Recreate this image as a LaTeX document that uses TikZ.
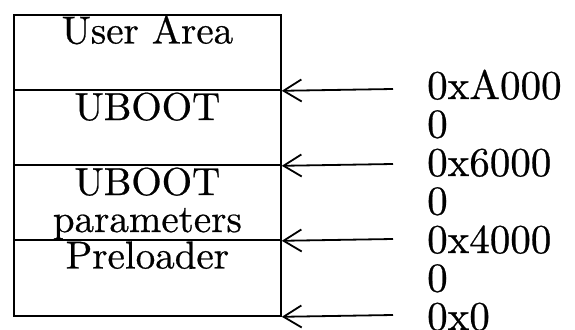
\documentclass[tikz,border=0pt]{standalone}
\usepackage{fontspec}
\setmainfont{lmroman10-regular.otf}[FakeBold=0.6]
\usetikzlibrary{arrows.meta}
\begin{document}
\begin{tikzpicture}[x=1pt,y=-1pt,
  cell/.style={draw,line width=1.8pt,minimum width=267pt,inner sep=0pt,anchor=north west},
  celltext/.style={anchor=base,inner sep=0pt,font=\fontsize{39}{38.5}\selectfont},
  addr/.style={anchor=base west,inner sep=0pt,font=\fontsize{41}{38.5}\selectfont},
  ptr/.style={line width=1.8pt,-{Straight Barb[length=18pt,width=22pt,line width=1.8pt]}}]
\useasboundingbox (0,0) rectangle (575,329);
\clip (0,0) rectangle (575,329);
% memory cells
\node[cell,minimum height=75pt] (c1) at (13,14) {};
\node[cell,minimum height=75pt] (c2) at (13,89) {};
\node[cell,minimum height=75pt] (c3) at (13,164) {};
\node[cell,minimum height=76pt] (c4) at (13,239) {};
% cell labels
\node[celltext] (t1) at ([yshift=-29.5pt]c1.north) {User Area};
\node[celltext] (t2) at ([yshift=-31pt]c2.north) {UBOOT};
\node[celltext] (t3) at ([yshift=-31pt]c3.north) {UBOOT};
\node[celltext] (t3b) at ([yshift=-68pt]c3.north) {parameters};
\node[celltext] (t4) at ([yshift=-29.5pt]c4.north) {Preloader};
% arrow sources
\coordinate (s1) at (393,89);
\coordinate (s2) at (393,164);
\coordinate (s3) at (393,239);
\coordinate (s4) at (393,315);
\draw[ptr] (s1) -- (c1.south east);
\draw[ptr] (s2) -- (c2.south east);
\draw[ptr] (s3) -- (c3.south east);
\draw[ptr] (s4) -- (c4.south east);
% address labels
\node[addr] (a1) at (427,99) {0xA000};
\node[addr] (a2) at (427,137.5) {0};
\node[addr] (a3) at (427,176) {0x6000};
\node[addr] (a4) at (427,214.5) {0};
\node[addr] (a5) at (427,253) {0x4000};
\node[addr] (a6) at (427,291.5) {0};
\node[addr] (a7) at (427,330) {0x0};
\end{tikzpicture}
\end{document}
